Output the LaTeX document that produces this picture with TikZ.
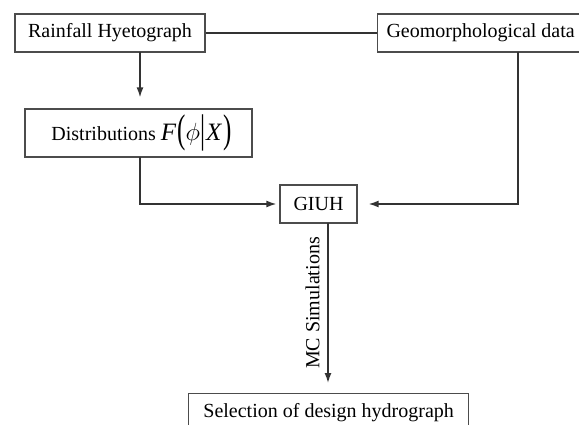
\documentclass[tikz,border=0pt]{standalone}
\usepackage{fontspec}
\usepackage{graphicx}
\setmainfont{Liberation Serif}
\usetikzlibrary{arrows.meta}
\newcommand{\tallp}[1]{\raisebox{-2pt}{\scalebox{1}[1.6]{#1}}}
\begin{document}
\begin{tikzpicture}[x=1pt,y=-1pt,
  box/.style={draw=black!70,line width=1.3pt,inner sep=0pt,font=\fontsize{20}{24}\selectfont},
  conn/.style={draw=black!80,line width=1.4pt},
  arr/.style={conn,-{Latex[length=10pt,width=7pt]}}]
\useasboundingbox (0,0) rectangle (579,425);
\node[box,minimum width=190pt,minimum height=38pt] (rain) at (110,33) {Rainfall Hyetograph};
\node[box,minimum width=206pt,minimum height=38pt,anchor=west] (geo) at (377,33) {Geomorphological data};
\node[box,minimum width=227pt,minimum height=48pt] (dist) at (138.5,133) {\hspace*{6pt}Distributions {\fontsize{25}{28}\selectfont\textit{F}\kern1pt\tallp{(}$\phi$\kern0.5pt\tallp{|}\kern0.5pt\textit{X}\kern1pt\tallp{)}}};
\node[box,minimum width=77pt,minimum height=38pt] (giuh) at (318.5,204) {GIUH};
\node[box,minimum width=280pt,minimum height=38pt,anchor=north west] (sel) at (188,393) {Selection of design hydrograph};
\coordinate (ra) at (140,52);
\coordinate (da) at (140,157);
\coordinate (ga) at (518,52);
\coordinate (gi) at (328,223);
\draw[conn] (rain.east) -- (geo.west);
\draw[arr,shorten >=11pt] (ra) -- (ra |- dist.north);
\draw[arr,shorten >=3pt] (da) |- (giuh.west);
\draw[arr,shorten >=11pt] (ga) |- (giuh.east);
\draw[arr,shorten >=10pt] (gi) -- (gi |- sel.north);
\node[rotate=90,font=\fontsize{20}{24}\selectfont,anchor=south] (mc) at (323,303) {MC Simulations};
\end{tikzpicture}
\end{document}
